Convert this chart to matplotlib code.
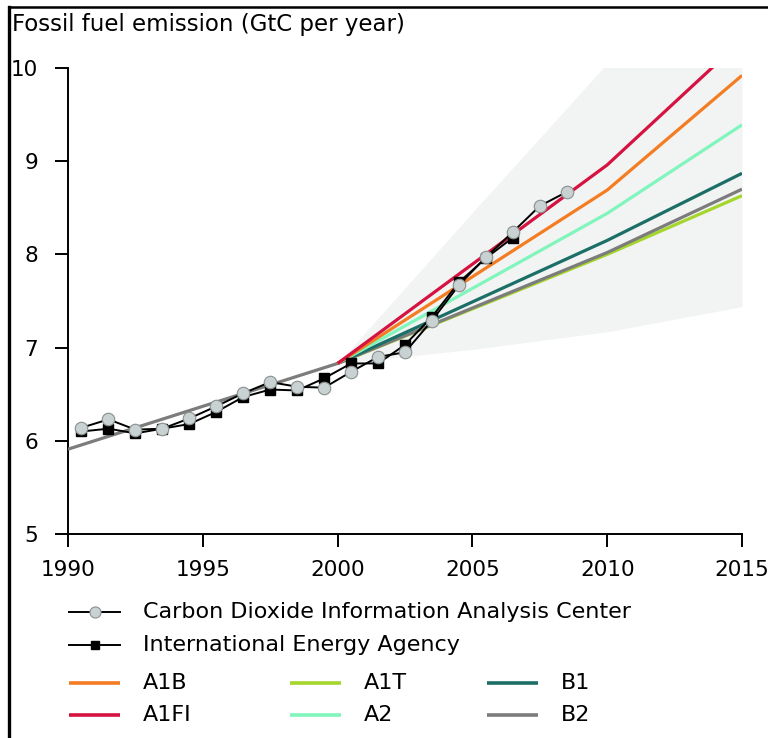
import matplotlib
matplotlib.use("Agg")
import matplotlib.pyplot as plt
from matplotlib.lines import Line2D
import numpy as np

plt.rcParams['font.family'] = ['DejaVu Sans']

# ---------------- data ----------------
obs_years_cdiac = [1990, 1991, 1992, 1993, 1994, 1995, 1996, 1997, 1998, 1999,
                   2000, 2001, 2002, 2003, 2004, 2005, 2006, 2007, 2008]
cdiac = [6.14, 6.23, 6.12, 6.13, 6.24, 6.37, 6.51, 6.63, 6.58, 6.57,
         6.74, 6.90, 6.95, 7.29, 7.67, 7.97, 8.24, 8.52, 8.67]

obs_years_iea = [1990, 1991, 1992, 1993, 1994, 1995, 1996, 1997, 1998, 1999,
                 2000, 2001, 2002, 2003, 2004, 2005, 2006]
iea = [6.10, 6.13, 6.08, 6.13, 6.18, 6.31, 6.47, 6.55, 6.54, 6.67,
       6.83, 6.83, 7.03, 7.33, 7.70, 7.96, 8.18]

scen_years = [1990, 2000, 2010, 2015]
scen_names = ['A1T', 'B2', 'B1', 'A2', 'A1B', 'A1FI']
nan = float('nan')
scen_values = {
    'A1B':  [nan, 6.83, 8.69, 9.92],
    'A1FI': [nan, 6.83, 8.96, 10.30],
    'A1T':  [nan, 6.83, 8.00, 8.63],
    'A2':   [nan, 6.83, 8.44, 9.39],
    'B1':   [nan, 6.83, 8.15, 8.87],
    'B2':   [5.91, 6.83, 8.02, 8.70],
}
scen_colors = {
    'A1B': '#f47c22', 'A1FI': '#d51240', 'A1T': '#a5d62c',
    'A2': '#80f5bc', 'B1': '#1b6f66', 'B2': '#7c7c7c',
}

band_years = [2000, 2005, 2010, 2015]
band_low = [6.83, 6.98, 7.17, 7.44]
band_high = [6.83, 8.45, 10.05, 11.5]

x_ticks = [1990, 1995, 2000, 2005, 2010, 2015]
y_ticks = [5, 6, 7, 8, 9, 10]

# ---------------- figure ----------------
W, H = 768, 738
fig = plt.figure(figsize=(W / 100, H / 100), dpi=100)

def fx(px):
    return px / W

def fy(py):
    return 1 - py / H

ax = fig.add_axes([fx(68), fy(534), fx(742) - fx(68), fy(68) - fy(534)])

ax.fill_between(band_years, band_low, band_high, color='#f2f3f3', lw=0, zorder=1)

for name in scen_names:
    ax.plot(scen_years, scen_values[name], color=scen_colors[name], lw=2.3,
            zorder=3, solid_capstyle='butt')

# observations plotted at mid-year
ax.plot(np.array(obs_years_iea) + 0.5, iea, color='black', lw=1.4,
        marker='s', ms=6.5, mfc='black', mec='black', zorder=5)
ax.plot(np.array(obs_years_cdiac) + 0.5, cdiac, color='black', lw=1.4,
        marker='o', ms=9, mfc='#c9d2d2', mec='#8a9090', mew=0.8, zorder=6)

ax.set_xlim(1990, 2015)
ax.set_ylim(5, 10)
ax.set_xticks(x_ticks)
ax.set_yticks(y_ticks)
ax.tick_params(axis='both', direction='out', length=9.5, width=1.4,
               labelsize=15.5, colors='black')
ax.tick_params(axis='y', pad=12)
ax.tick_params(axis='x', pad=9)
for s in ['top', 'right']:
    ax.spines[s].set_visible(False)
for s in ['left', 'bottom']:
    ax.spines[s].set_linewidth(1.4)

fig.text(fx(12), fy(25), 'Fossil fuel emission (GtC per year)', fontsize=16.5,
         ha='left', va='center')

# ---------------- legend (manual) ----------------
def handle(x0, x1, y, **kw):
    fig.add_artist(Line2D([fx(x0), fx(x1)], [fy(y), fy(y)],
                          transform=fig.transFigure, **kw))

def marker(x, y, **kw):
    fig.add_artist(Line2D([fx(x)], [fy(y)], transform=fig.transFigure,
                          linestyle='none', **kw))

fs_leg = 16
handle(69, 120, 612, color='black', lw=1.4)
marker(94.5, 612, marker='o', ms=8, mfc='#c9d2d2', mec='#8a9090', mew=0.8)
fig.text(fx(143), fy(612), 'Carbon Dioxide Information Analysis Center',
         fontsize=fs_leg, va='center', ha='left')
handle(69, 120, 645, color='black', lw=1.4)
marker(94.5, 645, marker='s', ms=6, mfc='black', mec='black')
fig.text(fx(143), fy(645), 'International Energy Agency',
         fontsize=fs_leg, va='center', ha='left')

legend_grid = [('A1B', 0, 0), ('A1FI', 0, 1), ('A1T', 1, 0), ('A2', 1, 1),
               ('B1', 2, 0), ('B2', 2, 1)]
col_x = [69, 290, 487]
row_y = [683, 715]
for name, c, r in legend_grid:
    x0 = col_x[c]
    y = row_y[r]
    handle(x0, x0 + 51, y, color=scen_colors[name], lw=2.6,
           solid_capstyle='butt')
    fig.text(fx(x0 + 74), fy(y), name, fontsize=fs_leg, va='center', ha='left')

# frame lines of the original figure
fig.add_artist(Line2D([fx(9), fx(9)], [0, fy(7)], transform=fig.transFigure,
                      color='black', lw=2.4))
fig.add_artist(Line2D([fx(9), 1], [fy(7), fy(7)], transform=fig.transFigure,
                      color='black', lw=1.8))

fig.savefig('out.png', dpi=100)
